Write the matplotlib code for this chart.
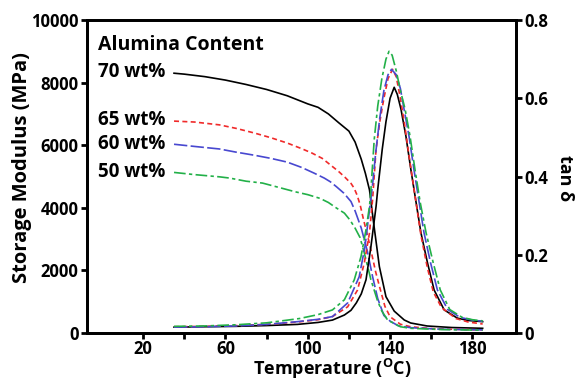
import numpy as np
import matplotlib.pyplot as plt
from matplotlib.ticker import FixedLocator

plt.rcParams['font.family'] = ['Open Sans', 'DejaVu Sans']
plt.rcParams['font.weight'] = 'bold'
plt.rcParams['mathtext.fontset'] = 'custom'
plt.rcParams['mathtext.rm'] = 'Open Sans:bold'
plt.rcParams['mathtext.bf'] = 'Open Sans:bold'

# storage modulus (MPa)
t70 = [35, 40, 50, 60, 70, 80, 90, 100, 105, 110, 115, 120, 123, 126, 128, 130, 132, 134.8, 138, 142, 146.9, 150, 158, 170, 185]
e70 = [8300, 8270, 8190, 8080, 7940, 7780, 7580, 7320, 7210, 7000, 6720, 6450, 6100, 5550, 5100, 4570, 3515, 2120, 1160, 700, 415, 320, 224, 175, 150]

t65 = [35, 45, 57, 65, 74, 82, 90, 97, 102, 107, 111, 115, 118, 121, 122.5, 124, 125.5, 127, 130, 133, 135, 137.5, 140, 145, 150, 160, 170, 185]
e65 = [6770, 6740, 6650, 6540, 6390, 6240, 6070, 5890, 5750, 5580, 5370, 5160, 4980, 4780, 4630, 4400, 4080, 3650, 2850, 1950, 1450, 850, 520, 280, 200, 140, 120, 100]

t60 = [35, 45, 57, 65, 74, 82, 90, 97, 103, 108, 111, 114, 117.5, 121, 123, 126, 129, 131.5, 134, 137, 140, 144, 150, 165, 185]
e60 = [6030, 5960, 5880, 5780, 5680, 5580, 5460, 5290, 5110, 4950, 4830, 4670, 4470, 4200, 3900, 3350, 2600, 1800, 1100, 560, 380, 230, 170, 120, 100]

t50 = [35, 45, 57, 62, 70, 78, 86, 94, 100, 106, 110, 114, 117.8, 120.5, 123, 125.4, 127.5, 130.7, 133.8, 136, 138.8, 145, 150, 165, 185]
e50 = [5130, 5060, 4990, 4950, 4850, 4790, 4650, 4510, 4420, 4300, 4170, 3990, 3830, 3610, 3350, 3050, 2550, 1700, 1050, 700, 415, 200, 150, 110, 90]

# tan delta
d70_t = [35, 50, 65, 80, 95, 105, 112, 117.8, 121, 123.6, 126, 128.3, 130.7, 133.2, 134, 136.2, 138, 140, 142, 143.5, 145.3, 147.7, 150.1, 152.6, 155, 158.2, 161.4, 166.3, 172.7, 178, 185]
d70 = [0.015, 0.016, 0.017, 0.019, 0.022, 0.027, 0.033, 0.046, 0.058, 0.077, 0.10, 0.136, 0.221, 0.324, 0.367, 0.47, 0.54, 0.60, 0.628, 0.61, 0.572, 0.503, 0.418, 0.335, 0.256, 0.179, 0.11, 0.059, 0.038, 0.032, 0.029]

d65_t = [35, 50, 65, 80, 95, 105, 112, 119.4, 124.2, 127.5, 130, 131.5, 133.2, 135, 137, 139, 141.2, 143, 145, 147, 149, 151, 153, 155, 158, 161, 165, 172, 178, 185]
d65 = [0.016, 0.017, 0.019, 0.022, 0.028, 0.034, 0.042, 0.067, 0.11, 0.18, 0.256, 0.341, 0.47, 0.54, 0.60, 0.65, 0.674, 0.655, 0.60, 0.535, 0.46, 0.39, 0.32, 0.25, 0.17, 0.105, 0.065, 0.037, 0.028, 0.023]

d60_t = [35, 50, 65, 80, 95, 105, 112, 119.4, 125, 127.8, 130, 131.5, 133, 135, 137, 139, 140.7, 143, 145, 146.8, 149.2, 151.6, 154.1, 156.5, 159.7, 163, 168, 174, 180, 185]
d60 = [0.015, 0.016, 0.018, 0.022, 0.029, 0.035, 0.042, 0.077, 0.144, 0.221, 0.315, 0.38, 0.46, 0.55, 0.62, 0.66, 0.674, 0.66, 0.625, 0.572, 0.503, 0.418, 0.335, 0.256, 0.179, 0.11, 0.06, 0.04, 0.033, 0.03]

d50_t = [35, 50, 65, 80, 96, 105, 112, 117.8, 122.6, 125.9, 128.3, 130, 130.7, 132.3, 134, 136, 138, 139.5, 141, 143, 145, 147.3, 149.7, 152.1, 154.6, 157.5, 161, 164.4, 169, 175, 180, 185]
d50 = [0.017, 0.018, 0.021, 0.026, 0.037, 0.047, 0.059, 0.085, 0.136, 0.196, 0.264, 0.324, 0.367, 0.495, 0.58, 0.65, 0.70, 0.72, 0.71, 0.67, 0.62, 0.572, 0.503, 0.418, 0.335, 0.256, 0.179, 0.11, 0.06, 0.04, 0.034, 0.031]

labels = ['70 wt%', '65 wt%', '60 wt%', '50 wt%']
label_y = [8340, 6790, 6040, 5140]
colors = ['black', '#f02a2a', '#4848d0', '#22b048']
styles = ['-', (0, (3, 2)), (0, (8, 2)), (0, (7, 2, 2, 2))]

fig = plt.figure(figsize=(5.75, 3.81), dpi=100)
ax = fig.add_axes([87 / 575, 1 - 333 / 381, 429 / 575, 313 / 381])
ax2 = ax.twinx()

mods = [(t70, e70), (t65, e65), (t60, e60), (t50, e50)]
tans = [(d70_t, d70), (d65_t, d65), (d60_t, d60), (d50_t, d50)]
for (t, e), (dt, d), c, ls in zip(mods, tans, colors, styles):
    ax.plot(t, e, color=c, linestyle=ls, linewidth=1.2)
    ax2.plot(dt, d, color=c, linestyle=ls, linewidth=1.2)

ax.set_xlim(-7.3, 201.2)
ax.set_ylim(0, 10000)
ax2.set_ylim(0, 0.8)

ax.set_xticks([20, 60, 100, 140, 180])
ax.xaxis.set_minor_locator(FixedLocator([40, 80, 120, 160]))
ax.set_yticks([0, 2000, 4000, 6000, 8000, 10000])
ax2.set_yticks([0, 0.2, 0.4, 0.6, 0.8])
ax2.set_yticklabels(['0', '0.2', '0.4', '0.6', '0.8'])

for a in (ax, ax2):
    for s in a.spines.values():
        s.set_linewidth(2)
    a.tick_params(which='both', direction='out', length=4, width=2,
                  labelsize=12, pad=2)
ax.tick_params(axis='x', pad=1)

# axis titles placed as in the reference
fig.text(332 / 575, 1 - 375 / 381, r'Temperature ($^{\mathrm{O}}$C)', fontsize=13,
         fontweight='bold', ha='center', va='baseline')
fig.text(22 / 575, 1 - 168 / 381, 'Storage Modulus (MPa)', fontsize=14.5,
         fontweight='bold', rotation=90, ha='center', va='center')
fig.text(565 / 575, 1 - 178 / 381, 'tan δ', fontsize=13,
         fontweight='bold', rotation=270, ha='center', va='center')

ax.text(-2, 9200, 'Alumina Content', fontsize=14, fontweight='bold', va='center')
for lab, y in zip(labels, label_y):
    ax.text(-2, y, lab, fontsize=13.5, fontweight='bold', va='center')

fig.savefig('out.png', dpi=100)
